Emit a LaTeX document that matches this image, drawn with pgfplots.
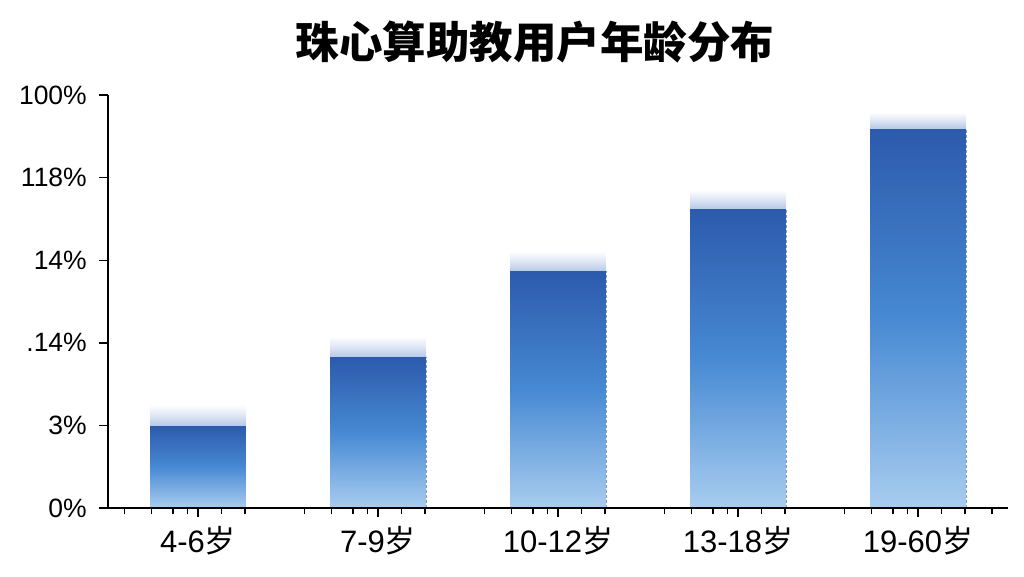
\documentclass[border=0pt]{standalone}
\usepackage{pgfplots}
\pgfplotsset{compat=1.18}
\usepackage{fontspec}
\setmainfont{Liberation Sans}
\newfontfamily\cjk{Noto Sans CJK SC}
\definecolor{bartop}{HTML}{2C5AAC}
\definecolor{barmid}{HTML}{4789D3}
\definecolor{barbot}{HTML}{A8CDEF}
\definecolor{glow}{HTML}{B8CAE8}
\definecolor{edgegray}{HTML}{8E9BB0}

\pgfplotsset{
  mybar/.style={ybar, bar width=0.533, bar shift=0pt, draw=none,
    top color=bartop, bottom color=barbot, middle color=barmid},
  myglow/.style={draw=none, top color=white, bottom color=glow, middle color=glow!45},
  myedge/.style={edgegray, densely dashed, line width=0.7pt},
}

\begin{document}
\begin{tikzpicture}[x=1pt,y=1pt]
\path[use as bounding box] (0,0) rectangle (1024,576);
\node[font=\cjk\bfseries\fontsize{43.5}{50}\selectfont] at (535,534) {珠心算助教用户年龄分布};
\begin{axis}[
    at={(108pt,68pt)}, anchor=south west,
    scale only axis, width=900pt, height=413pt,
    xmin=-0.5, xmax=4.5, ymin=0, ymax=5,
    axis lines=left,
    axis line style={-, line width=1.6pt},
    axis on top,
    ytick={0,1,2,3,4,5},
    yticklabels={0\%,3\%,.14\%,14\%,118\%,100\%},
    xtick={0,1,2,3,4},
    xticklabels={4-6{\cjk 岁},7-9{\cjk 岁},10-12{\cjk 岁},13-18{\cjk 岁},19-60{\cjk 岁}},
    tick align=outside,
    major tick length=9pt,
    tick style={black, line width=1.4pt},
    extra x ticks={-0.41,-0.26,-0.14,-0.06,0.13,0.26,
                   0.59,0.74,0.86,0.94,1.13,1.26,
                   1.59,1.74,1.86,1.94,2.13,2.26,
                   2.59,2.74,2.86,2.94,3.13,3.26,
                   3.59,3.74,3.86,3.94,4.13,4.26,4.41},
    extra x tick labels={},
    extra x tick style={major tick length=6pt},
    yticklabel style={font=\fontsize{26.5}{30}\selectfont, anchor=east, inner sep=0pt, xshift=-12pt},
    xticklabel style={font=\fontsize{31}{34}\selectfont, anchor=north, inner sep=0pt, yshift=-9pt},
    clip=false,
    ]
% bars, one plot each so every bar has its own gradient
\addplot[mybar] coordinates {(0,1.00)};
\addplot[mybar] coordinates {(1,1.83)};
\addplot[mybar] coordinates {(2,2.87)};
\addplot[mybar] coordinates {(3,3.63)};
\addplot[mybar] coordinates {(4,4.60)};
% soft glow above each bar
\addplot[myglow] coordinates {(-0.2667,1.00) (0.2667,1.00) (0.2667,1.25) (-0.2667,1.25)} --cycle;
\addplot[myglow] coordinates {(0.7333,1.83) (1.2667,1.83) (1.2667,2.08) (0.7333,2.08)} --cycle;
\addplot[myglow] coordinates {(1.7333,2.87) (2.2667,2.87) (2.2667,3.11) (1.7333,3.11)} --cycle;
\addplot[myglow] coordinates {(2.7333,3.63) (3.2667,3.63) (3.2667,3.85) (2.7333,3.85)} --cycle;
\addplot[myglow] coordinates {(3.7333,4.60) (4.2667,4.60) (4.2667,4.79) (3.7333,4.79)} --cycle;
% dashed right edges
\addplot[myedge] coordinates {(1.2667,0) (1.2667,1.83)};
\addplot[myedge] coordinates {(2.2667,0) (2.2667,2.87)};
\addplot[myedge] coordinates {(3.2667,0) (3.2667,3.63)};
\addplot[myedge] coordinates {(4.2667,0) (4.2667,4.60)};
\end{axis}
\end{tikzpicture}
\end{document}
